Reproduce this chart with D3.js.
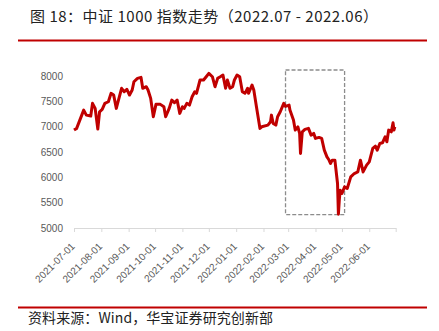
<!DOCTYPE html>
<html><head><meta charset="utf-8">
<script src="https://cdn.jsdelivr.net/npm/d3@7"></script>
<style>body{margin:0;background:#fff}svg{display:block}</style>
</head><body>
<script>
const dates = ["2021-07-01","2021-07-04","2021-07-12","2021-07-15","2021-07-20","2021-07-22","2021-07-25","2021-07-28","2021-07-30","2021-08-02","2021-08-05","2021-08-09","2021-08-12","2021-08-15","2021-08-18","2021-08-20","2021-08-24","2021-08-27","2021-08-30","2021-09-02","2021-09-05","2021-09-07","2021-09-11","2021-09-15","2021-09-17","2021-09-21","2021-09-23","2021-09-26","2021-09-29","2021-10-02","2021-10-07","2021-10-11","2021-10-13","2021-10-17","2021-10-20","2021-10-23","2021-10-26","2021-10-29","2021-11-01","2021-11-03","2021-11-06","2021-11-09","2021-11-12","2021-11-15","2021-11-17","2021-11-21","2021-11-25","2021-11-28","2021-12-01","2021-12-05","2021-12-08","2021-12-11","2021-12-14","2021-12-17","2021-12-20","2021-12-22","2021-12-25","2021-12-28","2021-12-30","2022-01-02","2022-01-05","2022-01-08","2022-01-11","2022-01-14","2022-01-15","2022-01-19","2022-01-21","2022-01-24","2022-01-28","2022-01-30","2022-02-06","2022-02-09","2022-02-10","2022-02-12","2022-02-15","2022-02-17","2022-02-20","2022-02-24","2022-02-26","2022-03-02","2022-03-03","2022-03-07","2022-03-09","2022-03-12","2022-03-14","2022-03-15","2022-03-17","2022-03-20","2022-03-24","2022-03-27","2022-03-30","2022-04-01","2022-04-05","2022-04-08","2022-04-11","2022-04-14","2022-04-16","2022-04-18","2022-04-20","2022-04-23","2022-04-26","2022-04-27","2022-04-28","2022-04-29","2022-05-01","2022-05-04","2022-05-07","2022-05-11","2022-05-15","2022-05-19","2022-05-22","2022-05-25","2022-05-29","2022-06-01","2022-06-05","2022-06-08","2022-06-10","2022-06-13","2022-06-16","2022-06-19","2022-06-21","2022-06-23","2022-06-26","2022-06-28","2022-06-29","2022-06-30"];
const values = [6932,6966,7327,7228,7209,7460,7361,6952,7294,7341,7460,7492,7658,7624,7361,7492,7757,7690,7737,7624,7723,7887,7954,7974,7757,7789,7723,7559,7195,7440,7440,7393,7195,7361,7525,7472,7525,7262,7393,7361,7460,7426,7590,7690,7658,7921,7921,7986,8053,7986,7789,7954,7986,8020,7757,7921,7757,7789,7921,8020,7986,7690,7658,7757,7658,7822,7723,7393,6966,6997,7031,7096,7228,7064,7031,7195,7294,7460,7400,7426,7327,7130,6932,6997,6867,6471,6898,6946,6966,6833,6867,6768,6788,6768,6536,6404,6352,6273,6339,6339,5878,5271,5548,5745,5680,5811,5779,6009,6075,6107,6339,6107,6240,6305,6570,6616,6536,6669,6681,6800,6701,6932,6898,7076,6932,6997];
const yTicks = [5000,5500,6000,6500,7000,7500,8000];
const xTickLabels = ["2021-07-01","2021-08-01","2021-09-01","2021-10-01","2021-11-01","2021-12-01","2022-01-01","2022-02-01","2022-03-01","2022-04-01","2022-05-01","2022-06-01"];
const xDomain = ["2021-07-01","2022-07-01"];
const boxDates = ["2022-02-26","2022-05-04"];
const boxValues = [5264,8118];
const title = "图 18：中证 1000 指数走势（2022.07 - 2022.06）";
const source = "资料来源：Wind，华宝证券研究创新部";

const parse = d3.utcParse("%Y-%m-%d");
const W = 439, H = 331;
const svg = d3.select("body").append("svg").attr("width", W).attr("height", H);

const x = d3.scaleUtc().domain(xDomain.map(parse)).range([74, 395.7]);
const y = d3.scaleLinear().domain([5000, 8000]).range([228, 76]);

// title
svg.append("text").attr("x", 30).attr("y", 22)
  .attr("font-family", "'Noto Sans CJK SC', sans-serif").attr("font-size", 15)
  .attr("fill", "#222").attr("textLength", 348).attr("lengthAdjust", "spacing")
  .text(title);
svg.append("line").attr("x1", 18).attr("x2", 427).attr("y1", 40.5).attr("y2", 40.5)
  .attr("stroke", "#C00000").attr("stroke-width", 2);

// footer
svg.append("line").attr("x1", 18).attr("x2", 427).attr("y1", 307.5).attr("y2", 307.5)
  .attr("stroke", "#C00000").attr("stroke-width", 2);
svg.append("text").attr("x", 28).attr("y", 323)
  .attr("font-family", "'Noto Sans CJK SC', sans-serif").attr("font-size", 14)
  .attr("fill", "#222").attr("textLength", 245).attr("lengthAdjust", "spacing")
  .text(source);

// y axis labels
svg.append("g").selectAll("text").data(yTicks).join("text")
  .attr("x", 63).attr("y", d => y(d)).attr("dy", "0.35em")
  .attr("text-anchor", "end")
  .attr("font-family", "'Liberation Sans', Arial, sans-serif").attr("font-size", 10)
  .attr("fill", "#595959").text(d => d);

// x axis
const xTickVals = xTickLabels.map(parse).concat([parse(xDomain[1])]);
const xAxis = d3.axisBottom(x).tickValues(xTickVals).tickSize(4).tickFormat("").tickSizeOuter(0);
const gx = svg.append("g").attr("transform", "translate(0,228)").call(xAxis);
gx.select(".domain").attr("stroke", "#d9d9d9");
gx.selectAll(".tick line").attr("stroke", "#d9d9d9");

svg.append("g").selectAll("text").data(xTickLabels).join("text")
  .attr("transform", d => `translate(${x(parse(d)) + 1.5},247) rotate(-45)`)
  .attr("text-anchor", "end")
  .attr("font-family", "'Liberation Sans', Arial, sans-serif").attr("font-size", 10)
  .attr("fill", "#595959").text(d => d);

// dashed box
svg.append("rect")
  .attr("x", x(parse(boxDates[0]))).attr("y", y(boxValues[1]))
  .attr("width", x(parse(boxDates[1])) - x(parse(boxDates[0])))
  .attr("height", y(boxValues[0]) - y(boxValues[1]))
  .attr("fill", "none").attr("stroke", "#8c8c8c").attr("stroke-width", 1.3)
  .attr("stroke-dasharray", "4,2");

// line
const pts = dates.map((d, i) => ({date: parse(d), v: values[i]}));
svg.append("path").datum(pts)
  .attr("d", d3.line().x(d => x(d.date)).y(d => y(d.v)))
  .attr("fill", "none").attr("stroke", "#C00000").attr("stroke-width", 3)
  .attr("stroke-linejoin", "round");
</script>
</body></html>
